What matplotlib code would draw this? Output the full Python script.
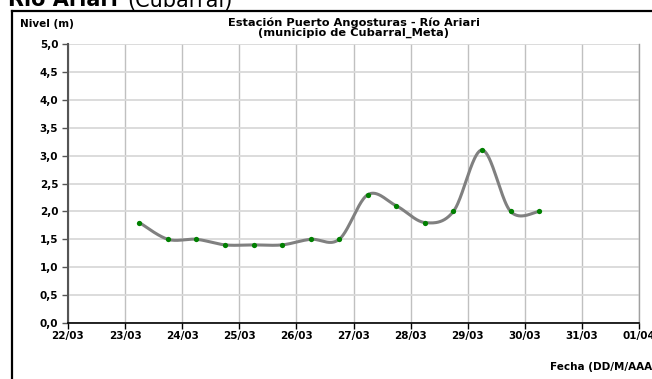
import numpy as np
import matplotlib
matplotlib.use("Agg")
import matplotlib.pyplot as plt
from matplotlib.lines import Line2D

plt.rcParams['font.family'] = ['DejaVu Sans']

# Data: day offsets (22/03 = 0) and water level (m)
days = [1.25, 1.75, 2.25, 2.75, 3.25, 3.75, 4.25, 4.75, 5.25, 5.75, 6.25, 6.75, 7.25, 7.75, 8.25]
nivel = [1.8, 1.5, 1.5, 1.4, 1.4, 1.4, 1.5, 1.5, 2.3, 2.1, 1.8, 2.0, 3.1, 2.0, 2.0]
x_labels = ['22/03', '23/03', '24/03', '25/03', '26/03', '27/03', '28/03', '29/03', '30/03', '31/03', '01/04']
y_ticks = [0.0, 0.5, 1.0, 1.5, 2.0, 2.5, 3.0, 3.5, 4.0, 4.5, 5.0]


def excel_smooth(xs, ys, n=40):
    xs = np.asarray(xs, float)
    ys = np.asarray(ys, float)
    P = np.column_stack([xs, ys])
    out = []
    for i in range(len(P) - 1):
        p0 = P[i - 1] if i > 0 else P[i]
        p1 = P[i]
        p2 = P[i + 1]
        p3 = P[i + 2] if i + 2 < len(P) else P[i + 1]
        c1 = p1 + (p2 - p0) / 6.0
        c2 = p2 - (p3 - p1) / 6.0
        t = np.linspace(0, 1, n)[:, None]
        seg = ((1 - t) ** 3) * p1 + 3 * ((1 - t) ** 2) * t * c1 + 3 * (1 - t) * t ** 2 * c2 + t ** 3 * p2
        out.append(seg if i == 0 else seg[1:])
    out = np.vstack(out)
    return out[:, 0], out[:, 1]


fig = plt.figure(figsize=(6.52, 3.79), dpi=100)
W, H = 652, 379
ax = fig.add_axes([68 / W, 1 - 323 / H, (639 - 68) / W, (323 - 44) / H])

sx, sy = excel_smooth(days, nivel)
ax.plot(sx, sy, color='#808080', lw=2.2, zorder=3, solid_capstyle='round')
ax.plot(days, nivel, 'o', color='#008000', ms=3.8, zorder=4, markeredgewidth=0)

ax.set_xlim(0, 10)
ax.set_ylim(0, 5)
ax.set_xticks(range(len(x_labels)))
ax.set_xticklabels(x_labels)
ax.set_yticks(y_ticks)
ax.set_yticklabels([f"{v:.1f}".replace('.', ',') for v in y_ticks])

ax.xaxis.grid(True, color='#c0c0c0', lw=1.0)
ax.yaxis.grid(True, color='#d9d9d9', lw=1.3)
ax.set_axisbelow(True)

for lab in ax.get_xticklabels() + ax.get_yticklabels():
    lab.set_fontweight('bold')
    lab.set_fontsize(7.5)
ax.tick_params(axis='both', direction='out', length=4, width=1, pad=2, colors='black')
ax.tick_params(axis='y', color='#555555', pad=3)

ax.spines['top'].set_visible(False)
ax.spines['right'].set_color('#a0a0a0')
ax.spines['right'].set_linewidth(1.0)
ax.spines['left'].set_color('#555555')
ax.spines['left'].set_linewidth(1.5)
ax.spines['bottom'].set_color('black')
ax.spines['bottom'].set_linewidth(1.2)

# Titles
fig.text(353.5 / W, 1 - 23 / H, 'Estación Puerto Angosturas - Río Ariari', ha='center', va='center',
         fontsize=8.2, fontweight='bold')
fig.text(353.5 / W, 1 - 32.5 / H, '(municipio de Cubarral_Meta)', ha='center', va='center',
         fontsize=8.2, fontweight='bold')
fig.text(20 / W, 1 - 24 / H, 'Nivel (m)', ha='left', va='center', fontsize=7.5, fontweight='bold')
fig.text(550 / W, 1 - 367 / H, 'Fecha (DD/M/AAAA)', ha='left', va='center', fontsize=7.5, fontweight='bold')

# Cut-off heading at the very top
fig.text(8 / W, 1 - 6.5 / H, 'Río Ariari', ha='left', va='baseline', fontsize=15, fontweight='bold')
fig.text(127 / W, 1 - 6.5 / H, '(Cubarral)', ha='left', va='baseline', fontsize=15)

# Outer chart border (extends past the right/bottom edges)
fig.add_artist(Line2D([12 / W, 12 / W], [1 - 11 / H, -0.05], transform=fig.transFigure, color='black', lw=1.6))
fig.add_artist(Line2D([12 / W, 1.05], [1 - 11 / H, 1 - 11 / H], transform=fig.transFigure, color='black', lw=1.6))

fig.savefig('out.png', dpi=100)
